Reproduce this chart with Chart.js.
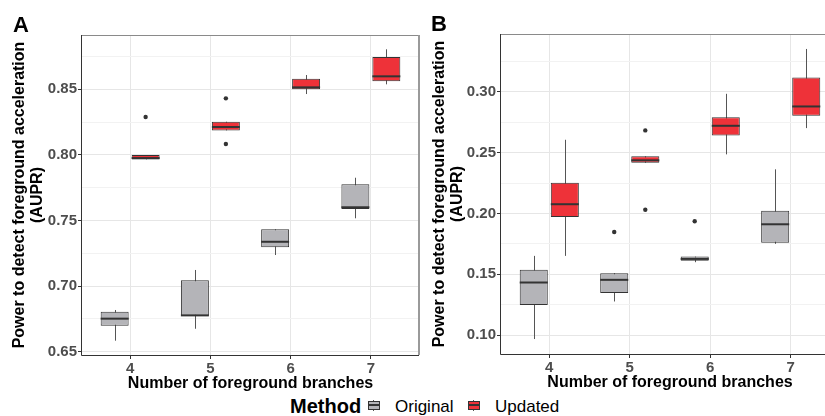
<!DOCTYPE html>
<html>
<head>
<meta charset="utf-8">
<script src="https://cdn.jsdelivr.net/npm/chart.js@4.4.1/dist/chart.umd.min.js"></script>
<style>
  body { margin: 0; background: #fff; font-family: "Liberation Sans", Arial, sans-serif; }
  #wrap { position: relative; width: 825px; height: 416px; overflow: hidden; }
  #chartA { position: absolute; left: 0; top: 0; }
  #chartB { position: absolute; left: 420px; top: 0; }
  .tag { position: absolute; font-weight: bold; font-size: 22px; line-height: 22px; }
  .ttl { position: absolute; font-weight: bold; font-size: 20px; line-height: 20px; white-space: nowrap; }
  .lab { position: absolute; font-size: 17px; line-height: 17px; white-space: nowrap; }
  .key { position: absolute; width: 12px; height: 11px; }
  .key .wh { position: absolute; left: 5px; top: 0; width: 1px; height: 11px; background: #555; }
  .key .bx { position: absolute; left: 0; top: 1px; width: 10px; height: 7px; border: 1px solid #333; }
  .key .md { position: absolute; left: 0; top: 4px; width: 12px; height: 2px; background: #333; }
</style>
</head>
<body>
<div id="wrap">
  <canvas id="chartA" width="420" height="394"></canvas>
  <canvas id="chartB" width="419" height="393"></canvas>
  <div class="tag" style="left:13px;top:14px">A</div>
  <div class="tag" style="left:431px;top:13px">B</div>
  <span class="ttl" style="left:290px;top:396px">Method</span>
  <div class="key" style="left:368px;top:400px"><div class="wh"></div><div class="bx" style="background:#b4b4b8"></div><div class="md"></div></div>
  <span class="lab" style="left:395px;top:398px">Original</span>
  <div class="key" style="left:468px;top:400px"><div class="wh"></div><div class="bx" style="background:#ee3239"></div><div class="md"></div></div>
  <span class="lab" style="left:495px;top:398px">Updated</span>
</div>
<script>
// number of foreground branches
const branches = [4, 5, 6, 7];

// box stats per branch count: [lower whisker, Q1, median, Q3, upper whisker]
const aOriginal = [
  [0.6584, 0.6698, 0.6752, 0.6805, 0.6818],
  [0.6675, 0.6774, 0.6777, 0.7044, 0.7123],
  [0.7237, 0.7296, 0.7338, 0.7433, 0.7433],
  [0.7517, 0.7588, 0.7601, 0.7776, 0.7826]
];
const aUpdated = [
  [0.7966, 0.7966, 0.7976, 0.7999, 0.7999],
  [0.8187, 0.8187, 0.8213, 0.8253, 0.8253],
  [0.8464, 0.8500, 0.8515, 0.8581, 0.8609],
  [0.8538, 0.8561, 0.8599, 0.8746, 0.8805]
];
const aOriginalOut = [[], [], [], []];
const aUpdatedOut = [[0.8289], [0.8431, 0.8083], [], []];

const bOriginal = [
  [0.0967, 0.1246, 0.1432, 0.1536, 0.1651],
  [0.1276, 0.1345, 0.1454, 0.1509, 0.1509],
  [0.1599, 0.1612, 0.1626, 0.1645, 0.1645],
  [0.1750, 0.1760, 0.1911, 0.2023, 0.2363]
];
const bUpdated = [
  [0.1651, 0.1971, 0.2076, 0.2253, 0.2606],
  [0.2417, 0.2417, 0.2437, 0.2470, 0.2470],
  [0.2486, 0.2642, 0.2721, 0.2792, 0.2984],
  [0.2702, 0.2803, 0.2880, 0.3118, 0.3353]
];
const bOriginalOut = [[], [0.1848], [0.1936], []];
const bUpdatedOut = [[], [0.2683, 0.2031], [], []];

// y axis ticks (major, labelled)
const aTicks = [0.65, 0.70, 0.75, 0.80, 0.85];
const bTicks = [0.10, 0.15, 0.20, 0.25, 0.30];

const GRAY = '#b4b4b8';
const RED = '#ee3239';
const INK = '#333333';

const isMajor = (v, majors) => majors.some(m => Math.abs(m - v) < 1e-6);

// whiskers behind the boxes, medians and outliers on top, panel border last
const boxplot = {
  id: 'boxplot',
  beforeDatasetsDraw(chart) {
    const ctx = chart.ctx, y = chart.scales.y;
    ctx.save();
    ctx.strokeStyle = '#555';
    ctx.lineWidth = 1;
    chart.data.datasets.forEach((ds, di) => {
      chart.getDatasetMeta(di).data.forEach((bar, i) => {
        const s = ds.stats[i];
        const x = Math.round(bar.x) + 0.5;
        ctx.beginPath();
        ctx.moveTo(x, y.getPixelForValue(s[0]));
        ctx.lineTo(x, y.getPixelForValue(s[4]));
        ctx.stroke();
      });
    });
    ctx.restore();
  },
  afterDatasetsDraw(chart) {
    const ctx = chart.ctx, y = chart.scales.y;
    ctx.save();
    chart.data.datasets.forEach((ds, di) => {
      chart.getDatasetMeta(di).data.forEach((bar, i) => {
        const s = ds.stats[i];
        const ym = y.getPixelForValue(s[2]);
        ctx.strokeStyle = INK;
        ctx.lineWidth = 2;
        ctx.beginPath();
        ctx.moveTo(bar.x - bar.width / 2, ym);
        ctx.lineTo(bar.x + bar.width / 2, ym);
        ctx.stroke();
        ctx.fillStyle = INK;
        ds.outliers[i].forEach(v => {
          ctx.beginPath();
          ctx.arc(bar.x, y.getPixelForValue(v), 2.2, 0, Math.PI * 2);
          ctx.fill();
        });
      });
    });
    const a = chart.chartArea;
    ctx.lineWidth = 1;
    ctx.strokeStyle = '#8a8a8a';
    ctx.beginPath();
    ctx.moveTo(a.left, a.top + 0.5);
    ctx.lineTo(a.right, a.top + 0.5);
    ctx.stroke();
    ctx.lineWidth = 2;
    ctx.strokeStyle = '#9a9a9a';
    ctx.beginPath();
    ctx.moveTo(a.right, a.top);
    ctx.lineTo(a.right, a.bottom);
    ctx.stroke();
    ctx.lineWidth = 1;
    ctx.strokeStyle = INK;
    ctx.beginPath();
    ctx.moveTo(a.left - 0.5, a.top);
    ctx.lineTo(a.left - 0.5, a.bottom + 0.5);
    ctx.lineTo(a.right, a.bottom + 0.5);
    ctx.stroke();
    ctx.restore();
  }
};

function boxSet(stats, outliers, color) {
  return {
    data: branches.map((b, i) => ({ x: b, y: [stats[i][1], stats[i][3]] })),
    stats: stats,
    outliers: outliers,
    backgroundColor: color,
    borderColor: INK,
    borderWidth: 1,
    borderSkipped: false,
    categoryPercentage: 0.772,
    barPercentage: 0.903
  };
}

function makePanel(id, orig, origOut, upd, updOut, majors, yMin, yMax, yWidth, padTop, padRight) {
  const minors = majors.map(m => +(m + 0.025).toFixed(3)).filter(v => v < yMax);
  const allTicks = majors.concat(minors).sort((p, q) => p - q);
  return new Chart(document.getElementById(id), {
    type: 'bar',
    data: {
      datasets: [boxSet(orig, origOut, GRAY), boxSet(upd, updOut, RED)]
    },
    options: {
      responsive: false,
      animation: false,
      layout: { padding: { left: 0, top: padTop, right: padRight, bottom: 0 } },
      plugins: { legend: { display: false }, tooltip: { enabled: false } },
      scales: {
        x: {
          type: 'linear',
          min: 3.4,
          max: 7.6,
          offset: false,
          afterBuildTicks: s => { s.ticks = branches.map(v => ({ value: v })); },
          afterFit: s => { s.height = 39; },
          border: { display: false },
          grid: { offset: false, color: '#e6e6e6', tickColor: INK, tickLength: 4 },
          ticks: {
            color: '#4d4d4d',
            font: { family: 'Liberation Sans', size: 15, weight: 'bold' },
            padding: 1,
            callback: v => String(v)
          },
          title: {
            display: true,
            text: 'Number of foreground branches',
            color: '#000',
            font: { family: 'Liberation Sans', size: 16, weight: 'bold' },
            padding: { top: 0, bottom: 1 }
          }
        },
        y: {
          min: yMin,
          max: yMax,
          beginAtZero: false,
          afterBuildTicks: s => { s.ticks = allTicks.map(v => ({ value: v })); },
          afterFit: s => { s.width = yWidth; },
          border: { display: false },
          grid: {
            color: c => isMajor(c.tick.value, majors) ? '#e6e6e6' : '#f2f2f2',
            tickColor: c => isMajor(c.tick.value, majors) ? INK : 'rgba(0,0,0,0)',
            tickLength: 4
          },
          ticks: {
            autoSkip: false,
            color: '#4d4d4d',
            font: { family: 'Liberation Sans', size: 15, weight: 'bold' },
            padding: 1,
            callback: v => isMajor(v, majors) ? v.toFixed(2) : ''
          },
          title: {
            display: true,
            text: ['Power to detect foreground acceleration', '(AUPR)'],
            color: '#000',
            font: { family: 'Liberation Sans', size: 16, weight: 'bold', lineHeight: 1.15 },
            padding: { top: 10 }
          }
        }
      }
    },
    plugins: [boxplot]
  });
}

makePanel('chartA', aOriginal, aOriginalOut, aUpdated, aUpdatedOut, aTicks, 0.6475, 0.8914, 82, 35, 1);
makePanel('chartB', bOriginal, bOriginalOut, bUpdated, bUpdatedOut, bTicks, 0.0844, 0.3476, 81, 34, 0);
</script>
</body>
</html>
